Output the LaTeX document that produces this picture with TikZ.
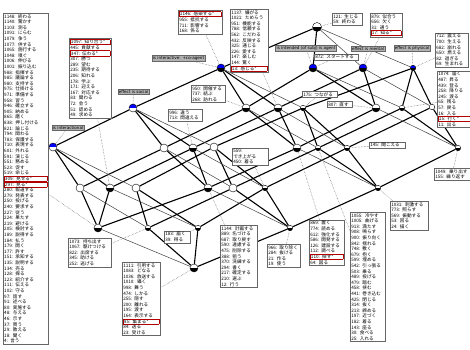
\documentclass[tikz,border=0pt]{standalone}
\usepackage{fontspec}
\newfontfamily\jp{Noto Sans CJK JP}
\newfontfamily\lab{DejaVu Sans}
\usetikzlibrary{backgrounds}
\newcommand\objfont{\jp\fontsize{4.6}{5.6}\selectfont}
\newcommand\rl[1]{{\setlength\fboxsep{0.2pt}\setlength\fboxrule{0.5pt}\fcolorbox{red!70!black}{white}{\makebox[\dimexpr\hsize-1.4pt][l]{#1}}}}
\tikzset{
  obj/.style={draw=black!60, line width=0.5pt, fill=white, inner sep=1pt, anchor=north west, align=left, text width=#1, font=\objfont},
  att/.style={draw=black!60, line width=0.5pt, fill=black!30, inner sep=0.9pt, font=\lab\fontsize{4.1}{5}\selectfont},
  cn/.style 2 args={circle, draw, line width=0.4pt, inner sep=0, minimum size=8pt,
     path picture={\fill[#1] (path picture bounding box.west) rectangle (path picture bounding box.north east);
                   \fill[#2] (path picture bounding box.west) rectangle (path picture bounding box.south east);}},
  sm/.style={minimum size=5.5pt},
  thk/.style={line width=1.1pt, black},
  thn/.style={line width=0.5pt, black!75},
  dot/.style={densely dotted, line width=0.5pt, black!60},
}
\begin{document}
\lineskiplimit=-5pt
\begin{tikzpicture}[x=1pt, y=-1pt]
\useasboundingbox (0,0) rectangle (470,349);
% lattice nodes
\node[cn={white}{black}, minimum size=9pt] (T) at (317,27) {};
\node[cn={blue}{black}] (A) at (221,68) {};
\node[cn={blue}{black}] (B) at (313,68) {};
\node[cn={blue}{black}] (C) at (363,68) {};
\node[cn={blue}{black}, sm] (D) at (413,68) {};
\node[cn={blue}{white}] (E) at (133,108) {};
\node[cn={white}{black}] (F) at (246,108) {};
\node[cn={white}{black}] (G) at (278,108) {};
\node[cn={white}{black}, sm] (H) at (303,108) {};
\node[cn={white}{black}] (I) at (376,108) {};
\node[cn={white}{black}, sm] (J) at (402,108) {};
\node[cn={white}{white}, sm] (J2) at (432,107) {};
\node[cn={blue}{white}] (K) at (53,147) {};
\node[cn={white}{white}] (L) at (164,148) {};
\node[cn={white}{black}] (M) at (193,148) {};
\node[cn={white}{white}] (N) at (214,147) {};
\node[cn={white}{black}] (O) at (297,148) {};
\node[cn={white}{black}, sm] (P) at (318,148) {};
\node[cn={white}{black}, sm] (Q) at (347,148) {};
\node[cn={white}{black}, sm] (R) at (458,148) {};
\node[cn={white}{white}] (S) at (80,188) {};
\node[cn={white}{black}] (U) at (110,188) {};
\node[cn={white}{white}] (V) at (136,188) {};
\node[cn={white}{black}] (W) at (208,188) {};
\node[cn={white}{white}] (X) at (233,188) {};
\node[cn={white}{black}, sm] (Y) at (265,188) {};
\node[cn={white}{black}, sm] (Z) at (378,188) {};
\node[cn={white}{black}] (a) at (98,228) {};
\node[cn={white}{black}, sm] (b) at (148,228) {};
\node[cn={white}{black}, sm] (c) at (198,228) {};
\node[cn={white}{black}, sm] (d) at (290,228) {};
\node[cn={white}{black}] (bot) at (194,268) {};
\begin{scope}[on background layer]
\fill[white] (0,0) rectangle (470,349);
% chain edges
\foreach \u/\v in {T/A, A/E, E/K, B/F, F/L, L/S, C/G, G/M, M/U, D/H, H/N, N/V, I/O, O/W, W/a, J/P, P/X, X/b, J2/Q, Q/Y, Y/c, R/Z, Z/d, d/bot}
  \draw[thk] (\u)--(\v);
% B and C steps
\foreach \u/\v in {T/B, B/I, C/I, D/J, D/J2, J/R, J2/R, A/F, A/G, F/O, G/O, H/P, H/Q, P/Z, Q/Z, E/L, E/M, L/W, M/W, N/X, N/Y, X/d, Y/d, K/S, K/U, S/a, U/a, V/b, V/c, b/bot, c/bot}
  \draw[thk] (\u)--(\v);
% thin steps
\foreach \u/\v in {T/C, T/D, B/J, C/J2, I/R, A/H, F/P, G/Q, O/Z, E/N, L/X, M/Y, W/d, K/V, S/b, U/c, a/bot}
  \draw[thn] (\u)--(\v);
\end{scope}
% attribute labels
\node[att] (lK) at (68,127.5) {is interactional};
\node[att] (lE) at (133.5,91.5) {effect is social};
\node[att] (lA) at (178.5,58) {is interactive: +co-agent};
\node[att] (lB) at (306,48.5) {is intended (of subj) is agent};
\node[att] (lC) at (368,48.5) {effect is mental};
\node[att] (lD) at (412,48.5) {effect is physical};
% object boxes
\node[obj=43pt] (o1) at (3,13) {1148: 終わる\\1140: 驚かす\\1103: 測る\\1091: にらむ\\1079: 争う\\1077: 供する\\1065: 施行する\\1048: 嗅ぐ\\1006: 伸びる\\1001: 振り込む\\988: 指揮する\\985: 議論する\\980: 支持する\\975: 仕掛ける\\971: 準備する\\958: 習う\\946: 確立する\\905: 納める\\865: 磨く\\838: 押し付ける\\821: 論じる\\794: 関わる\\783: 保護する\\710: 表現する\\601: 外れる\\591: 演じる\\551: 務める\\523: 促す\\519: 命じる\\\rl{309: 見せる*}\\\rl{297: 見る*}\\280: 報道する\\279: 発表する\\250: 投げる\\240: 要求する\\227: 従う\\224: 果たす\\219: 避ける\\205: 検討する\\189: 説得する\\184: 払う\\179: 開く\\177: 許す\\151: 承知する\\135: 説明する\\134: 売る\\128: 探る\\123: 紹介する\\111: 伝える\\102: 守る\\97: 話す\\91: 述べる\\80: 実施する\\48: 与える\\46: 示す\\37: 買う\\29: 教える\\18: 聞く\\4: 言う};
\node[obj=40pt] (o2) at (69,38) {\rl{1097: 知り合う*}\\445: 貢献する\\\rl{347: 伝わる*}\\307: 勝つ\\289: 望む\\235: 期待する\\206: 知れる\\178: 学ぶ\\171: 迎える\\167: 対応する\\83: 関わる\\72: 会う\\51: 認める\\49: 求める};
\node[obj=42pt] (o3) at (178,10) {\rl{1146: 感染する*}\\955: 抵抗する\\711: 影響する\\168: 係る};
\node[obj=36pt] (o4) at (230,9) {1137: 嫌がる\\1021: ためらう\\951: 機能する\\788: 信頼する\\562: こだわる\\432: 反映する\\325: 通じる\\226: 愛する\\147: 楽しむ\\144: 驚く\\\rl{13: 感じる*}};
\node[obj=28pt] (o5) at (332,13) {121: 生じる\\59: 終わる};
\node[obj=42pt] (o6) at (314,54) {872: スタートする};
\node[obj=30pt] (o7) at (370,13) {879: 似合う\\656: 欠く\\31: 通う\\\rl{17: 知る*}};
\node[obj=31pt] (o8) at (435,33) {712: 震える\\700: 生える\\682: 崩れる\\650: 燃える\\82: 過ぎる\\69: 生まれる};
\node[obj=32pt] (o9) at (437,71) {1074: 届く\\487: 昇る\\439: 登る\\258: 降りる\\245: 渡る\\65: 残る\\57: 戻る\\16: 入る\\\rl{15: 行く*}\\11: 出る};
\node[obj=32pt] (o10) at (191,85) {950: 開催する\\737: 結ぶ\\268: 訪れる};
\node[obj=32pt] (o11) at (168,109) {996: 違う\\713: 間違える};
\node[obj=33pt] (o12) at (302,91) {175: つながる};
\node[obj=23pt] (o13) at (327,101) {807: 直す};
\node[obj=34pt] (o14) at (369,141.5) {145: 聞こえる};
\node[obj=34pt] (o15) at (232,148) {559: でき上がる\\450: 着る};
\node[obj=34pt] (o16) at (434,168) {1049: 乗り出す\\155: 繰り返す};
\node[obj=36pt] (o17) at (390,201) {1031: 刺激する\\773: 照らす\\569: 振動する\\53: 回る\\24: 描く};
\node[obj=33pt] (o18) at (350,212) {1055: 冷やす\\1005: 曲げる\\913: 満たす\\908: 鳴らす\\900: 振り向く\\842: 揺れる\\748: 敷く\\679: 抱く\\599: 埋める\\542: 引っ張る\\503: 乗る\\489: 投げる\\479: 踏む\\458: 挟む\\441: 巻き込む\\425: 閉じる\\314: 抜く\\213: 締める\\197: 近づく\\182: 着る\\143: 座る\\30: 食べる\\25: 入れる};
\node[obj=33pt] (o19) at (309,220) {869: 置く\\774: 読める\\612: 強化する\\586: 開発する\\126: 建設する\\112: 調べる\\\rl{110: 探す*}\\64: 図る};
\node[obj=31pt] (o20) at (267,244) {966: 取り除く\\284: 抜ける\\21: 作る\\19: 使う};
\node[obj=35pt] (o21) at (220,225) {1144: 計画する\\889: 名づける\\687: 取り戻す\\590: 遠慮する\\475: 削除する\\388: 狙う\\370: 洗練する\\294: 書く\\217: 確定する\\210: 選ぶ\\12: 行う};
\node[obj=24pt] (o22) at (164,231) {183: 届く\\39: 得る};
\node[obj=36pt] (o23) at (122,262) {1111: 引用する\\1083: どなる\\1036: 放送する\\1010: 囁く\\998: 舞う\\474: しかる\\255: 隠す\\200: 離れる\\195: 渡す\\164: 表示する\\\rl{95: 集まる*}\\84: 送る\\23: 受ける};
\node[obj=41pt] (o24) at (68,238) {1073: 持ち出す\\1067: 駆けつける\\822: 出席する\\345: 助ける\\252: 逃げる};
% connectors
\begin{scope}[on background layer]
\draw[dot] (lK)--(K); \draw[dot] (lE)--(E); \draw[dot] (lA)--(A); \draw[dot] (lB)--(B); \draw[dot] (lC)--(C); \draw[dot] (lD)--(D);
\draw[dot] (o1)--(a); \draw[dot] (o2)--(U); \draw[dot] (o3)--(A); \draw[dot] (o4)--(G); \draw[dot] (o5)--(T);
\draw[dot] (o6)--(B); \draw[dot] (o7)--(C); \draw[dot] (o8)--(D); \draw[dot] (o9)--(J); \draw[dot] (o10)--(F);
\draw[dot] (o11)--(M); \draw[dot] (o12)--(H); \draw[dot] (o13)--(I); \draw[dot] (o14)--(Q); \draw[dot] (o15)--(Y);
\draw[dot] (o16)--(R); \draw[dot] (o17)--(Z); \draw[dot] (o18)--(P); \draw[dot] (o19)--(O); \draw[dot] (o20)--(d);
\draw[dot] (o21)--(W); \draw[dot] (o22)--(c); \draw[dot] (o23)--(bot); \draw[dot] (o24)--(b);
\end{scope}
\end{tikzpicture}
\end{document}
